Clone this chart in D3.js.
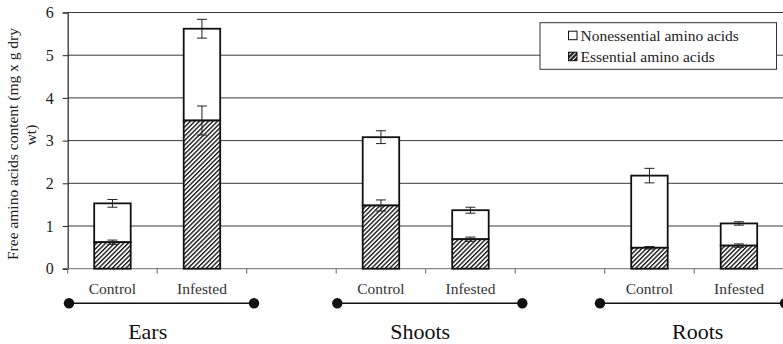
<!DOCTYPE html>
<html>
<head>
<meta charset="utf-8">
<script src="https://cdn.jsdelivr.net/npm/d3@7"></script>
<style>
    body { margin: 0; background: #fff; }
    svg, svg text { font-family: 'Liberation Serif', 'Times New Roman', Tinos, 'DejaVu Serif', serif; }
</style>
</head>
<body>
<svg id="chart" width="783" height="344"></svg>
<script>

// ---------------------------
// DATA
// ---------------------------

const groups = ["Ears", "Shoots", "Roots"];
const treatments = ["Control", "Infested"];

// order: Ears C, Ears I, Shoots C, Shoots I, Roots C, Roots I
const essential = [0.62, 3.47, 1.48, 0.69, 0.49, 0.54];
const essentialErr = [0.05, 0.34, 0.13, 0.05, 0.03, 0.04];
const nonessential = [0.91, 2.15, 1.60, 0.68, 1.69, 0.52];
const totalErr = [0.09, 0.22, 0.15, 0.07, 0.17, 0.04];

const yTicks = [0, 1, 2, 3, 4, 5, 6];
const legendLabels = ["Nonessential amino acids", "Essential amino acids"];

// ---------------------------
// SETUP
// ---------------------------

const FONT = "'Liberation Serif', 'Times New Roman', serif";
const width = 783;
const height = 344;
const margin = {top: 12.5, left: 67.7, right: 0, bottom: 75.3};
const innerHeight = height - margin.top - margin.bottom;

// one slot per bar plus an empty slot between groups
const slots = [];
groups.forEach((g, gi) => {
    treatments.forEach(t => slots.push(`${g}|${t}`));
    if (gi < groups.length - 1) slots.push(`gap${gi}`);
});

const bars = [];
groups.forEach((g, gi) => {
    treatments.forEach((t, ti) => {
        const i = gi * 2 + ti;
        bars.push({
            group: g,
            treatment: t,
            key: `${g}|${t}`,
            essential: essential[i],
            essentialErr: essentialErr[i],
            total: essential[i] + nonessential[i],
            totalErr: totalErr[i]
        });
    });
});

const xScale = d3.scaleBand()
    .domain(slots)
    .range([margin.left, margin.left + 89.5 * slots.length])
    .paddingInner(0)
    .paddingOuter(0);

const step = xScale.step();
const barWidth = 36.5;

const yScale = d3.scaleLinear()
    .domain([0, 6])
    .range([margin.top + innerHeight, margin.top]);

const svg = d3.select("#chart")
    .attr("font-family", FONT);

// hatch patterns (bars + darker one for the legend swatch)
const defs = svg.append("defs");

const makeHatch = (id, size, lineW) => {
    defs.append("pattern")
        .attr("id", id)
        .attr("patternUnits", "userSpaceOnUse")
        .attr("width", size)
        .attr("height", size)
        .attr("patternTransform", "rotate(45)")
        .call(p => p.append("rect")
            .attr("width", size).attr("height", size).attr("fill", "#fff"))
        .append("line")
        .attr("x1", lineW / 2).attr("y1", 0)
        .attr("x2", lineW / 2).attr("y2", size)
        .attr("stroke", "#1a1a1a")
        .attr("stroke-width", lineW);
};

makeHatch("hatch", 3.2, 1.4);
makeHatch("hatchDark", 3.2, 2.2);

// ---------------------------
// GRID + AXES
// ---------------------------

svg.append("g")
    .selectAll("line")
    .data(yTicks.filter(d => d > 0))
    .join("line")
    .attr("x1", margin.left)
    .attr("x2", width)
    .attr("y1", d => yScale(d))
    .attr("y2", d => yScale(d))
    .attr("stroke", "#3a3a3a")
    .attr("stroke-width", 1);

const yAxis = d3.axisLeft(yScale)
    .tickValues(yTicks)
    .tickSize(5)
    .tickPadding(9)
    .tickFormat(d3.format("d"));

svg.append("g")
    .attr("transform", `translate(${margin.left},0)`)
    .call(yAxis)
    .attr("font-family", FONT)
    .attr("font-size", "16px")
    .call(g => g.select(".domain").attr("stroke", "#222").attr("stroke-width", 1.2))
    .call(g => g.selectAll(".tick line").attr("stroke", "#222"))
    .call(g => g.selectAll("text").attr("fill", "#222"));

// x baseline and slot boundary ticks
svg.append("line")
    .attr("x1", margin.left)
    .attr("x2", width)
    .attr("y1", yScale(0))
    .attr("y2", yScale(0))
    .attr("stroke", "#8a8a8a")
    .attr("stroke-width", 1.3);

svg.append("g")
    .selectAll("line")
    .data(slots.map(s => xScale(s)).concat([xScale(slots[slots.length - 1]) + step]))
    .join("line")
    .attr("x1", d => d)
    .attr("x2", d => d)
    .attr("y1", yScale(0))
    .attr("y2", yScale(0) + 5)
    .attr("stroke", "#666")
    .attr("stroke-width", 1);

// y label (two lines)
const yLabel = svg.append("text")
    .attr("transform", "translate(0,144) rotate(-90)")
    .attr("text-anchor", "middle")
    .attr("font-size", "15.5px")
    .attr("fill", "#222");

yLabel.append("tspan")
    .attr("x", 0)
    .attr("y", 18)
    .text("Free amino acids content (mg x g dry");

yLabel.append("tspan")
    .attr("x", 9)
    .attr("y", 36)
    .text("wt)");

// ---------------------------
// BARS
// ---------------------------

const barG = svg.append("g")
    .selectAll("g")
    .data(bars)
    .join("g")
    .attr("transform", d => `translate(${xScale(d.key) + step / 2},0)`);

// nonessential (upper white part)
barG.append("rect")
    .attr("x", -barWidth / 2)
    .attr("width", barWidth)
    .attr("y", d => yScale(d.total))
    .attr("height", d => yScale(d.essential) - yScale(d.total))
    .attr("fill", "#fff")
    .attr("stroke", "#111")
    .attr("stroke-width", 1.8);

// essential (hatched part)
barG.append("rect")
    .attr("x", -barWidth / 2)
    .attr("width", barWidth)
    .attr("y", d => yScale(d.essential))
    .attr("height", d => yScale(0) - yScale(d.essential))
    .attr("fill", "url(#hatch)")
    .attr("stroke", "#111")
    .attr("stroke-width", 1.8);

// error bars
const drawErr = (sel, val, err) => {
    const capW = 5;
    sel.append("line")
        .attr("x1", 0).attr("x2", 0)
        .attr("y1", d => yScale(val(d) + err(d)))
        .attr("y2", d => yScale(val(d) - err(d)))
        .attr("stroke", "#222");
    [1, -1].forEach(s => {
        sel.append("line")
            .attr("x1", -capW).attr("x2", capW)
            .attr("y1", d => yScale(val(d) + s * err(d)))
            .attr("y2", d => yScale(val(d) + s * err(d)))
            .attr("stroke", "#222");
    });
};

drawErr(barG, d => d.total, d => d.totalErr);
drawErr(barG, d => d.essential, d => d.essentialErr);

// ---------------------------
// CATEGORY LABELS
// ---------------------------

svg.append("g")
    .selectAll("text")
    .data(bars)
    .join("text")
    .attr("x", d => xScale(d.key) + step / 2)
    .attr("y", 293.5)
    .attr("text-anchor", "middle")
    .attr("font-size", "15.5px")
    .attr("fill", "#333")
    .text(d => d.treatment);

// group bracket lines with dots
const lineShift = [1.3, 1.1, -4.7];
const labelShift = [80, 84, 93];

groups.forEach((g, gi) => {
    const x0 = xScale(`${g}|Control`) + lineShift[gi];
    const x1 = x0 + 2 * step + 6;
    const yLine = 303.3;

    svg.append("line")
        .attr("x1", x0).attr("x2", x1)
        .attr("y1", yLine).attr("y2", yLine)
        .attr("stroke", "#111")
        .attr("stroke-width", 1.6);

    svg.selectAll(null)
        .data([x0, x1])
        .join("circle")
        .attr("cx", d => d)
        .attr("cy", yLine)
        .attr("r", 5.2)
        .attr("fill", "#111");

    svg.append("text")
        .attr("x", xScale(`${g}|Control`) + labelShift[gi])
        .attr("y", 339)
        .attr("text-anchor", "middle")
        .attr("font-size", "22px")
        .attr("fill", "#111")
        .text(g);
});

// ---------------------------
// LEGEND
// ---------------------------

const legend = svg.append("g");

legend.append("rect")
    .attr("x", 540)
    .attr("y", 22.7)
    .attr("width", 236.5)
    .attr("height", 46.6)
    .attr("fill", "#fff")
    .attr("stroke", "#333")
    .attr("stroke-width", 1);

const legendFills = ["#fff", "url(#hatchDark)"];

legendLabels.forEach((label, i) => {
    const yy = 40.7 + i * 21;

    legend.append("rect")
        .attr("x", 568.5)
        .attr("y", yy - 9.5)
        .attr("width", 8.5)
        .attr("height", 8.5)
        .attr("fill", legendFills[i])
        .attr("stroke", "#111")
        .attr("stroke-width", 1);

    legend.append("text")
        .attr("x", 580.5)
        .attr("y", yy)
        .attr("font-size", "15.5px")
        .attr("fill", "#222")
        .text(label);
});

</script>
</body>
</html>
